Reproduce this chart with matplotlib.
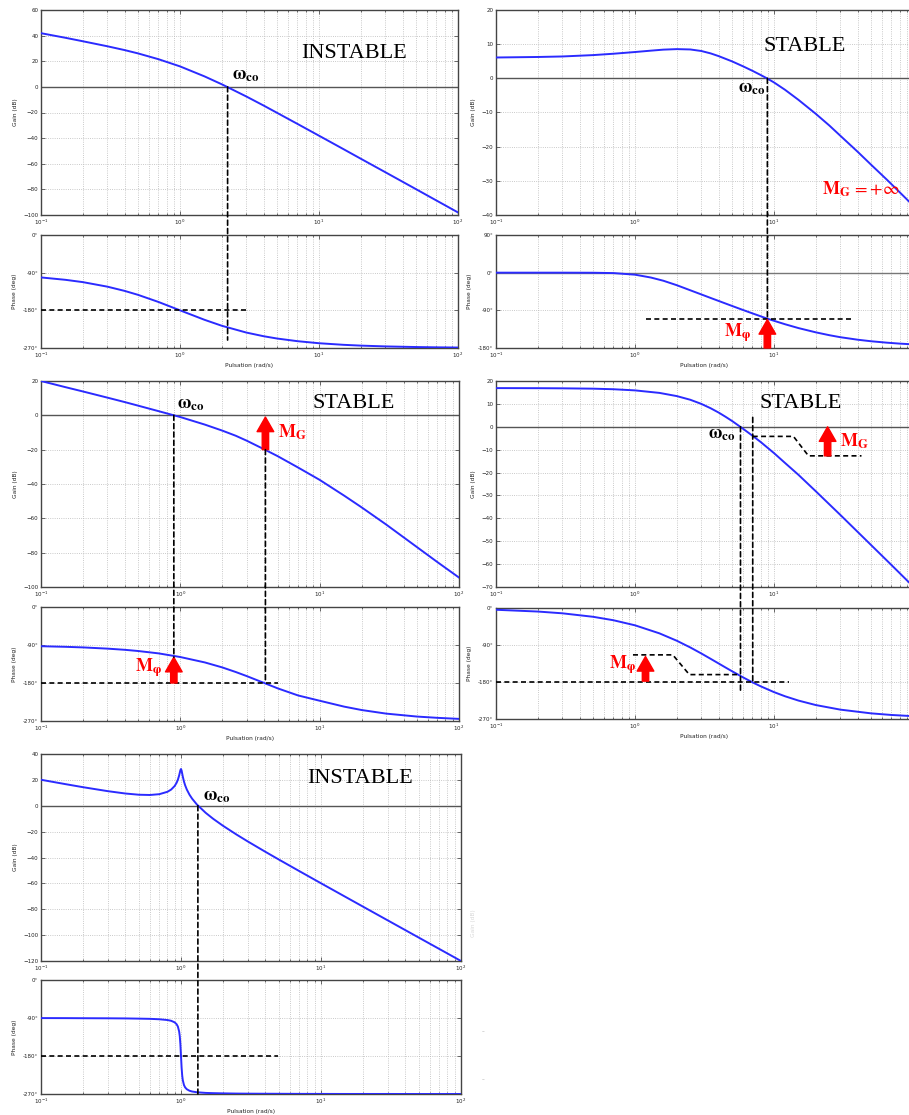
import matplotlib

matplotlib.use("Agg")

import matplotlib.pyplot as plt
from matplotlib.patches import ConnectionPatch
from matplotlib.ticker import LogLocator, NullFormatter

FIG_W, FIG_H = 909, 1115
DPI = 100

# ---- case 1 : INSTABLE ----
W1 = [0.1, 0.15, 0.2, 0.3, 0.4, 0.5, 0.7, 1, 1.5, 2, 3, 4, 5, 7, 10, 15, 20, 30, 50, 70, 100]
GAIN1 = [41.9, 38.3, 35.6, 31.7, 28.7, 26.1, 21.6, 16.0, 8.2, 2.0, -7.5, -14.6, -20.3, -28.9,
         -38.1, -48.6, -56.1, -66.6, -79.9, -88.7, -98.0]
PHASE1 = [-101.4, -107.1, -112.6, -123.4, -133.6, -143.1, -160.0, -180.0, -202.6, -216.9, -233.1,
          -241.9, -247.4, -253.7, -258.6, -262.4, -264.3, -266.2, -267.7, -268.4, -268.9]
WCO1 = 2.2

# ---- case 2 : STABLE, MG = +inf ----
W2 = [0.1, 0.2, 0.3, 0.5, 0.7, 1, 1.3, 1.6, 2, 2.5, 3, 3.5, 4, 5, 6, 7, 8, 8.9, 10, 12, 15, 20,
      25, 30, 40, 50, 65, 80, 100]
GAIN2 = [6.1, 6.25, 6.4, 6.8, 7.2, 7.7, 8.1, 8.4, 8.55, 8.45, 8.0, 7.3, 6.5, 4.95, 3.5, 2.2, 1.0,
         0.0, -1.2, -3.35, -6.3, -10.4, -13.8, -16.8, -21.5, -25.3, -29.7, -33.3, -37.2]
PHASE2 = [0.0, 0.0, 0.0, -0.2, -1.0, -4.8, -11.6, -19.3, -30.0, -42.1, -52.0, -60.4, -67.6, -79.6,
          -89.3, -97.3, -104.1, -109.6, -115.0, -123.2, -132.4, -142.6, -149.4, -154.2, -160.2,
          -163.9, -167.3, -169.5, -171.3]
WCO2 = 8.96
PHI2 = -110.0

# ---- case 3 : STABLE ----
W3 = [0.1, 0.15, 0.2, 0.3, 0.4, 0.5, 0.7, 1, 1.5, 2, 2.5, 3, 4, 5, 7, 10, 15, 20, 30, 50, 70, 100]
GAIN3 = [20.0, 16.4, 13.9, 10.3, 7.7, 5.6, 2.4, -1.0, -5.4, -8.9, -11.9, -14.8, -19.8, -23.8,
         -30.4, -37.6, -46.8, -53.6, -63.6, -76.8, -85.5, -94.5]
PHASE3 = [-92.9, -94.3, -95.7, -98.6, -101.4, -104.3, -109.9, -118.5, -131.3, -143.1, -154.0,
          -163.7, -180.0, -192.7, -209.5, -222.0, -236.0, -244.0, -252.5, -259.5, -262.5, -265.0]
WCO3 = 0.898
W180_3 = 4.08
PHI3 = -119.0
G180_3 = -20.0

# ---- case 4 : STABLE ----
W4 = [0.1, 0.2, 0.3, 0.5, 0.7, 1, 1.5, 2, 2.5, 3, 3.5, 4, 4.5, 5, 6, 7, 8, 10, 12, 15, 20, 30,
      50, 70, 100]
GAIN4 = [16.9, 16.86, 16.8, 16.65, 16.4, 15.9, 14.8, 13.4, 11.8, 10.0, 8.1, 6.2, 4.3, 2.5, -0.9,
         -3.9, -6.6, -11.5, -15.8, -21.0, -28.2, -38.5, -51.7, -60.4, -69.7]
PHASE4 = [-4.3, -8.6, -12.9, -21.4, -29.8, -42.1, -61.7, -79.7, -96.0, -110.6, -123.6, -135.0,
          -145.1, -154.0, -168.9, -180.8, -190.3, -204.6, -214.7, -225.2, -236.1, -247.2, -256.3,
          -260.2, -263.1]
WCO4 = 5.74
W180_4 = 7.03
MG_PATH_W = [7.03, 13.8, 17.7, 42.6]
MG_PATH_G = [-4.2, -4.2, -12.7, -12.7]
MP_PATH_W = [0.967, 1.87, 2.46, 5.77]
MP_PATH_P = [-114.0, -114.0, -162.0, -162.0]

# ---- case 5 : INSTABLE (resonance) ----
W5 = [0.1, 0.15, 0.2, 0.3, 0.4, 0.5, 0.6, 0.7, 0.8, 0.85, 0.9, 0.93, 0.95, 0.97, 0.98, 0.99, 1.0,
      1.01, 1.02, 1.03, 1.05, 1.07, 1.1, 1.15, 1.2, 1.3, 1.5, 1.7, 2, 2.5, 3, 4, 5, 7, 10, 15, 20,
      30, 50, 70, 100]
GAIN5 = [20.09, 16.68, 14.33, 11.28, 9.47, 8.52, 8.32, 8.94, 10.78, 12.49, 15.20, 17.73, 20.11,
         23.40, 25.47, 27.51, 28.40, 27.18, 24.87, 22.55, 18.75, 15.86, 12.56, 8.54, 5.50, 0.92,
         -5.46, -10.14, -15.56, -22.36, -27.60, -35.56, -41.58, -50.52, -59.91, -70.52, -78.04,
         -88.62, -101.94, -110.70, -120.00]
PHASE5 = [-90.2, -90.3, -90.5, -90.7, -91.0, -91.5, -92.0, -93.0, -94.8, -96.6, -100.2, -104.7,
          -110.3, -122.0, -133.2, -152.1, -180.0, -207.6, -226.2, -237.3, -248.7, -254.3, -258.7,
          -262.3, -264.1, -265.9, -267.4, -268.0, -268.5, -269.0, -269.2, -269.4, -269.5, -269.7,
          -269.8, -269.9, -269.9, -269.9, -270.0, -270.0, -270.0]
WCO5 = 1.32

X_TICKS = [0.1, 1, 10, 100]
X_LABELS_FULL = [r"$10^{-1}$", r"$10^{0}$", r"$10^{1}$", r"$10^{2}$"]
X_LABELS_CUT = [r"$10^{-1}$", r"$10^{0}$", r"$10^{1}$", ""]
PHASE_TICKS_A = [0, -90, -180, -270]
PHASE_LABELS_A = ["0°", "-90°", "-180°", "-270°"]
PHASE_TICKS_B = [90, 0, -90, -180]
PHASE_LABELS_B = ["90°", "0°", "-90°", "-180°"]

CURVE = "#2b2bff"
RED = "#ff0000"
DASH = (0, (3, 2))
ARROW = "simple,head_length=10.5,head_width=12,tail_width=4.6"


def px_axes(fig, left, top, right, bottom):
    return fig.add_axes([left / FIG_W, 1 - bottom / FIG_H, (right - left) / FIG_W, (bottom - top) / FIG_H])


def style_axes(ax, ylim, yticks, ylabel, xlabels, yticklabels=None, xlabel=None):
    ax.set_xscale("log")
    ax.set_xlim(0.1, 100)
    ax.set_ylim(*ylim)
    ax.set_yticks(yticks)
    if yticklabels is not None:
        ax.set_yticklabels(yticklabels)
    ax.set_xticks(X_TICKS, labels=xlabels)
    ax.xaxis.set_minor_locator(LogLocator(base=10, subs=range(2, 10), numticks=40))
    ax.xaxis.set_minor_formatter(NullFormatter())
    ax.grid(True, which="major", linestyle=":", color="#b8b8b8", linewidth=0.6)
    ax.grid(True, which="minor", axis="x", linestyle=":", color="#b8b8b8", linewidth=0.6)
    ax.tick_params(which="both", direction="in", top=True, right=True, labelsize=4,
                   color="#333333", labelcolor="#222222", width=0.5, pad=2)
    ax.tick_params(which="major", length=3)
    ax.tick_params(which="minor", length=1.5)
    for spine in ax.spines.values():
        spine.set_color("#444444")
        spine.set_linewidth(1.0)
    ax.set_ylabel(ylabel, fontsize=4.2, color="#222222")
    if xlabel:
        ax.set_xlabel(xlabel, fontsize=4.2, color="#222222", labelpad=2)


def bode_pair(fig, left, right, gain_top, gain_bottom, phase_top, phase_bottom,
              w, gain, phase, glim, gticks, plim, pticks, plabels, xlabels=X_LABELS_FULL):
    ax_g = px_axes(fig, left, gain_top, right, gain_bottom)
    ax_p = px_axes(fig, left, phase_top, right, phase_bottom)
    style_axes(ax_g, glim, gticks, "Gain (dB)", xlabels)
    style_axes(ax_p, plim, pticks, "Phase (deg)", xlabels, plabels, "Pulsation (rad/s)")
    ax_g.axhline(0, color="#555555", linewidth=1.0, zorder=2)
    ax_g.plot(w, gain, color=CURVE, linewidth=1.4, zorder=3)
    ax_p.plot(w, phase, color=CURVE, linewidth=1.4, zorder=3)
    return ax_g, ax_p


def link(fig, ax_a, xy_a, ax_b, xy_b):
    con = ConnectionPatch(xyA=xy_a, coordsA=ax_a.transData, xyB=xy_b, coordsB=ax_b.transData,
                          color="black", linewidth=1.2, linestyle=DASH, zorder=5)
    fig.add_artist(con)


def dashed(ax, xs, ys):
    ax.plot(xs, ys, color="black", linewidth=1.2, linestyle=DASH, zorder=4, clip_on=False)


def red_arrow(ax, x, y_tail, y_head):
    ax.annotate("", xy=(x, y_head), xytext=(x, y_tail),
                arrowprops=dict(arrowstyle=ARROW, color=RED, shrinkA=0, shrinkB=0,
                                mutation_scale=1), zorder=6)


def title(ax, x, y, text):
    ax.text(x, y, text, fontsize=16, family="Liberation Serif", ha="center", va="center",
            color="black", zorder=6)


def math_label(ax, x, y, text, color="black", ha="left", va="bottom", size=13):
    ax.text(x, y, text, fontsize=size, color=color, ha=ha, va=va, math_fontfamily="stix",
            zorder=6)


WCO_TEXT = r"$\mathbf{\omega_{co}}$"
MPHI_TEXT = r"$\mathbf{M_{\varphi}}$"
MG_TEXT = r"$\mathbf{M_{G}}$"

fig = plt.figure(figsize=(FIG_W / DPI, FIG_H / DPI), dpi=DPI)

# panel 1
g1, p1 = bode_pair(fig, 41, 458, 10, 215, 235, 348, W1, GAIN1, PHASE1,
                   (-100, 60), range(-100, 61, 20), (-270, 0), PHASE_TICKS_A, PHASE_LABELS_A)
title(g1, 18, 26.4, "INSTABLE")
math_label(g1, 2.35, 2.0, WCO_TEXT)
link(fig, g1, (WCO1, 0), p1, (WCO1, -251))
dashed(p1, [0.1, 2.97], [-180, -180])

# panel 2
g2, p2 = bode_pair(fig, 496, 913, 10, 215, 235, 348, W2, GAIN2, PHASE2,
                   (-40, 20), range(-40, 21, 10), (-180, 90), PHASE_TICKS_B, PHASE_LABELS_B,
                   X_LABELS_CUT)
p2.axhline(0, color="#777777", linewidth=1.0, zorder=2)
title(g2, 16.7, 9.3, "STABLE")
math_label(g2, 8.6, -5.5, WCO_TEXT, ha="right")
math_label(g2, 22.1, -35.4, r"$\mathbf{M_{G}}$" + r"$\,=+\infty$", color=RED)
link(fig, g2, (WCO2, 0), p2, (WCO2, PHI2))
dashed(p2, [1.2, 36.5], [PHI2, PHI2])
red_arrow(p2, WCO2, -180, PHI2 - 2)
math_label(p2, 4.4, -170, MPHI_TEXT, color=RED)

# panel 3
g3, p3 = bode_pair(fig, 41, 459, 381, 587, 607, 721, W3, GAIN3, PHASE3,
                   (-100, 20), range(-100, 21, 20), (-270, 0), PHASE_TICKS_A, PHASE_LABELS_A)
title(g3, 17.5, 6.9, "STABLE")
math_label(g3, 0.944, 1.5, WCO_TEXT)
link(fig, g3, (WCO3, 0), p3, (WCO3, PHI3))
link(fig, g3, (W180_3, G180_3), p3, (W180_3, -180))
dashed(p3, [0.1, 5.0], [-180, -180])
red_arrow(g3, W180_3, G180_3, -1)
math_label(g3, 5.0, -15.8, MG_TEXT, color=RED)
red_arrow(p3, WCO3, -180, PHI3)
math_label(p3, 0.47, -170, MPHI_TEXT, color=RED)

# panel 4
g4, p4 = bode_pair(fig, 496, 913, 381, 587, 608, 719, W4, GAIN4, PHASE4,
                   (-70, 20), range(-70, 21, 10), (-270, 0), PHASE_TICKS_A, PHASE_LABELS_A,
                   X_LABELS_CUT)
title(g4, 15.6, 10.2, "STABLE")
math_label(g4, 5.23, -6.9, WCO_TEXT, ha="right")
link(fig, g4, (WCO4, 0), p4, (WCO4, -206))
link(fig, g4, (W180_4, 4.1), p4, (W180_4, -180))
dashed(g4, MG_PATH_W, MG_PATH_G)
red_arrow(g4, 24.3, -12.7, 0)
math_label(g4, 30, -10.4, MG_TEXT, color=RED)
dashed(p4, [0.1, 12.8], [-180, -180])
dashed(p4, MP_PATH_W, MP_PATH_P)
red_arrow(p4, 1.19, -178, -118)
math_label(p4, 0.655, -166, MPHI_TEXT, color=RED)

# panel 5
g5, p5 = bode_pair(fig, 41, 461, 754, 961, 980, 1094, W5, GAIN5, PHASE5,
                   (-120, 40), range(-120, 41, 20), (-270, 0), PHASE_TICKS_A, PHASE_LABELS_A)
title(g5, 19.1, 21.1, "INSTABLE")
math_label(g5, 1.44, 0.3, WCO_TEXT)
link(fig, g5, (WCO5, 0), p5, (WCO5, -270))
dashed(p5, [0.1, 4.9], [-180, -180])

# faint remnants of a cropped neighbouring panel
fig.text(473 / FIG_W, 1 - 923 / FIG_H, "Gain (dB)", rotation=90, fontsize=4.2, color="#d8d8d8",
         ha="center", va="center")
fig.text(483 / FIG_W, 1 - 1032 / FIG_H, "–", fontsize=4, color="#999999", ha="center", va="center")
fig.text(483 / FIG_W, 1 - 1080 / FIG_H, "–", fontsize=4, color="#999999", ha="center", va="center")

fig.savefig("out.png", dpi=DPI)
plt.close(fig)
